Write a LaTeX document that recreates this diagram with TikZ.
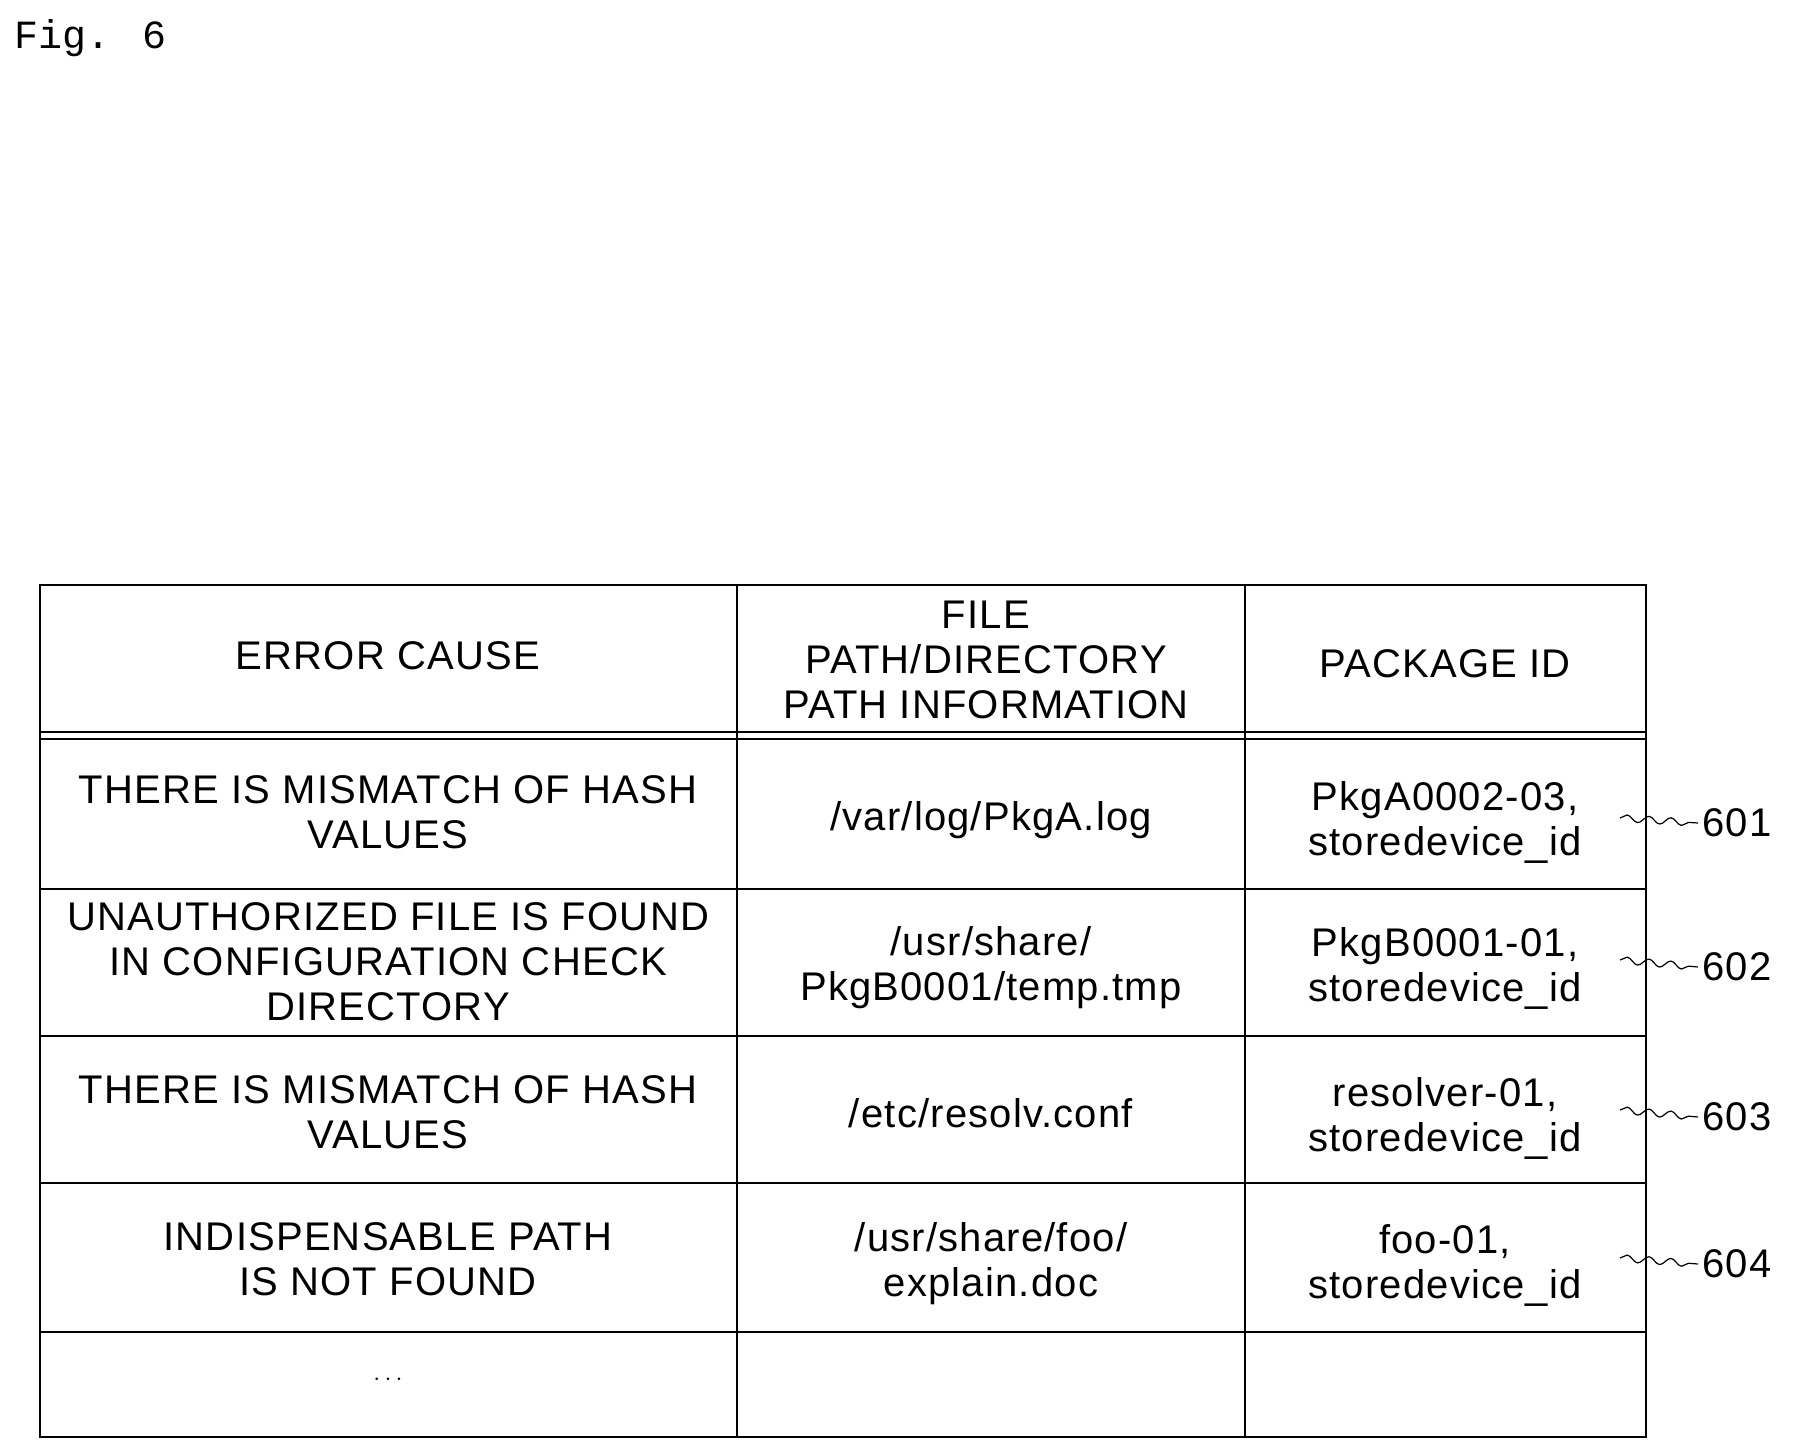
\documentclass[tikz,border=0pt]{standalone}
\usepackage{fontspec}
\setmainfont{Liberation Sans}[LetterSpace=3]
\newfontfamily\figfont{Liberation Mono}
\usetikzlibrary{decorations.pathmorphing}
\begin{document}
\begin{tikzpicture}
            [x=1pt, y=-1pt, line width=1.6pt,
             cell/.style={align=center, font=\fontsize{40}{45}\selectfont},
             reflabel/.style={font=\fontsize{40}{45}\selectfont, anchor=west},
             leader/.style={line width=1.2pt, decorate, decoration={snake, amplitude=3.5pt, segment length=22pt}}]
            \useasboundingbox (0,0) rectangle (1796,1455);
            \node[anchor=west, font=\figfont\fontsize{40}{44}\selectfont] (fig) at (10,38) {Fig. 6};

            % grid
            \draw (40,585) rectangle (1646,1437);
            \draw (40,732) -- (1646,732);
            \draw (40,739) -- (1646,739);
            \foreach \y in {889,1036,1183,1332}
                \draw (40,\y) -- (1646,\y);
            \draw (737,585) -- (737,1437);
            \draw (1245,585) -- (1245,1437);

            % header
            \node[cell] (h1) at (388,656) {ERROR CAUSE};
            \node[cell] (h2) at (986,660) {FILE\\PATH/DIRECTORY\\PATH INFORMATION};
            \node[cell] (h3) at (1445,664) {PACKAGE ID};

            % rows
            \node[cell] (c11) at (388,812) {THERE IS MISMATCH OF HASH\\VALUES};
            \node[cell] (c12) at (991,820) {/var/log/PkgA.log};
            \node[cell] (c13) at (1445,822) {PkgA0002-03,\\storedevice\_id};
            \node[cell] (c21) at (388,962) {UNAUTHORIZED FILE IS FOUND\\IN CONFIGURATION CHECK\\DIRECTORY};
            \node[cell] (c22) at (991,968) {/usr/share/\\PkgB0001/temp.tmp};
            \node[cell] (c23) at (1445,968) {PkgB0001-01,\\storedevice\_id};
            \node[cell] (c31) at (388,1112) {THERE IS MISMATCH OF HASH\\VALUES};
            \node[cell] (c32) at (991,1113) {/etc/resolv.conf};
            \node[cell] (c33) at (1445,1118) {resolver-01,\\storedevice\_id};
            \node[cell] (c41) at (388,1259) {INDISPENSABLE PATH\\IS NOT FOUND};
            \node[cell] (c42) at (991,1264) {/usr/share/foo/\\explain.doc};
            \node[cell] (c43) at (1445,1265) {foo-01,\\storedevice\_id};
            \node[cell] (c51) at (388,1380) {$\cdots$};

            % reference labels
            \node[reflabel] (r601) at (1698,823) {601};
            \node[reflabel] (r602) at (1698,967) {602};
            \node[reflabel] (r603) at (1698,1117) {603};
            \node[reflabel] (r604) at (1698,1264) {604};
            \coordinate (p601) at (1620,818);
            \coordinate (p602) at (1620,960);
            \coordinate (p603) at (1620,1110);
            \coordinate (p604) at (1620,1258);
            \foreach \n in {601,602,603,604}
                \draw[leader] (p\n) -- (r\n.west);
\end{tikzpicture}
\end{document}
